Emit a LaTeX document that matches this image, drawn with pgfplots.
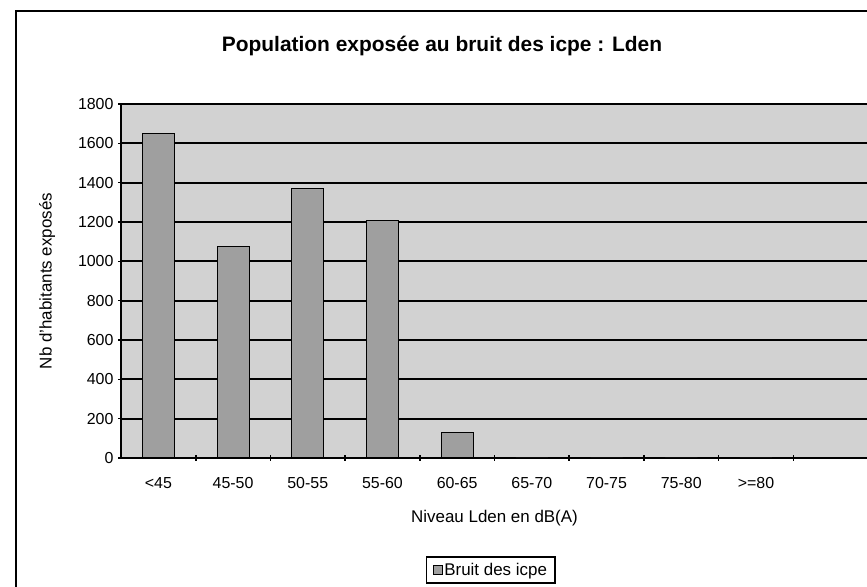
\documentclass[border=0pt]{standalone}
\usepackage{fontspec}
\setmainfont{Liberation Sans}
\usepackage{pgfplots}
\pgfplotsset{compat=1.18}
\begin{document}
\begin{tikzpicture}[x=1bp,y=1bp]
\path[use as bounding box] (0,0) rectangle (867,587);
\draw[line width=2bp] (16,0) -- (16,576) -- (867,576);
\node[font=\bfseries\fontsize{21}{24}\selectfont] at (442,541) {Population exposée au bruit des icpe : Lden};
\begin{axis}[
  at={(121bp,129bp)}, anchor=south west,
  width=747bp, height=354bp, scale only axis,
  xmin=0, xmax=10, ymin=0, ymax=1800,
  ytick={0,200,...,1800},
  xtick={0.5,1.5,...,8.5},
  xticklabels={<45,45-50,50-55,55-60,60-65,65-70,70-75,75-80,>=80},
  minor xtick={1,...,9},
  major x tick style={draw=none},
  tick align=outside,
  major tick length=6bp, minor tick length=6bp,
  tick style={black, line width=1.6bp},
  axis x line=bottom, axis y line=left,
  axis line style={-, black, line width=1.8bp},
  ymajorgrids, grid style={black, line width=1.8bp},
  axis background/.style={fill=gray!35},
  /pgf/number format/assume math mode=true,
  /pgf/number format/1000 sep={},
  ticklabel style={font=\fontsize{16}{18}\selectfont},
  yticklabel style={xshift=-1bp},
  xticklabel style={yshift=-13bp},
  xlabel={Niveau Lden en dB(A)},
  ylabel={Nb d'habitants exposés},
  label style={font=\fontsize{17}{19}\selectfont},
  xlabel style={at={(axis description cs:0.5,-0.169)}, anchor=center},
  ylabel style={at={(axis description cs:-0.099,0.5)}, anchor=center},
  legend style={at={(axis description cs:0.495,-0.316)}, anchor=center,
    draw=black, line width=1.6bp, font=\fontsize{17}{19}\selectfont,
    inner xsep=6bp, inner ysep=4bp},
  legend image code/.code={\draw[fill=gray!75, draw=black, line width=0.8bp] (0bp,-4.5bp) rectangle (9bp,4.5bp);},
  clip=false,
]
\addplot[ybar, bar width=32bp, fill=gray!75, draw=black, line width=1bp]
  coordinates {(0.5,1650) (1.5,1075) (2.5,1370) (3.5,1210) (4.5,130) (5.5,0) (6.5,0) (7.5,0) (8.5,0)};
\addlegendentry{Bruit des icpe}
\end{axis}
\end{tikzpicture}
\end{document}
